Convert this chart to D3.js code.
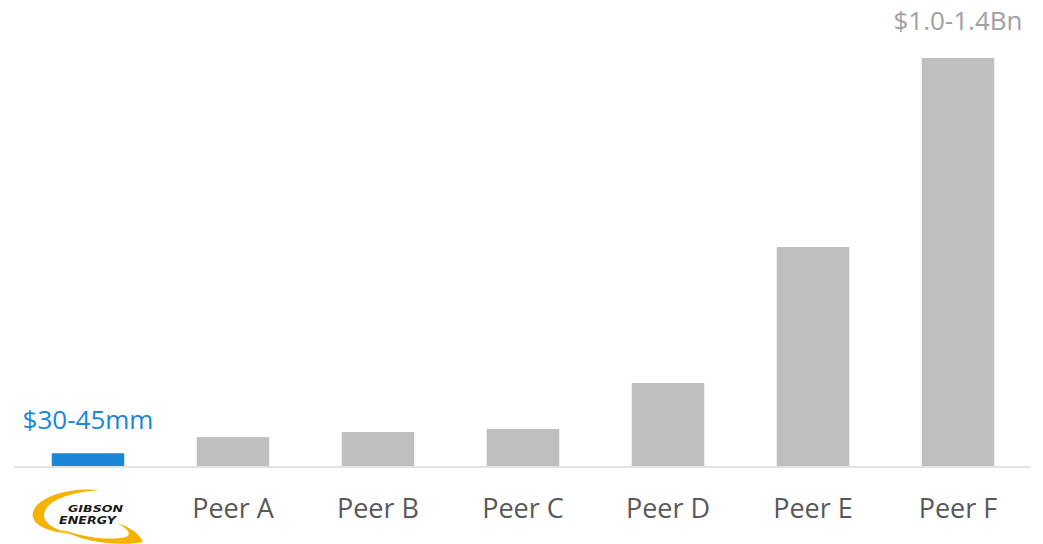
<!DOCTYPE html>
<html>
<head>
<meta charset="utf-8">
<script src="https://cdn.jsdelivr.net/npm/d3@7"></script>
<style>
  html, body { margin: 0; padding: 0; background: #ffffff; }
  svg { display: block; }
</style>
</head>
<body>
<svg id="chart" width="1043" height="544"></svg>
<script>
const categories = ["Gibson Energy", "Peer A", "Peer B", "Peer C", "Peer D", "Peer E", "Peer F"];
// Estimated annual figures in $mm (midpoints where a range is given)
const values = [37.5, 85, 100, 109, 244, 644, 1200];
const valueLabels = ["$30-45mm", "", "", "", "", "", "$1.0-1.4Bn"];
const highlight = "Gibson Energy";

const W = 1043, H = 544;
const svg = d3.select("#chart");

const x = d3.scaleBand().domain(categories).range([15.5, 1030.5]).paddingInner(0.5).paddingOuter(0.25);
const y = d3.scaleLinear().domain([0, 1200]).range([466, 58]);

// bars
svg.append("g").selectAll("rect").data(categories).join("rect")
  .attr("x", d => x(d))
  .attr("width", x.bandwidth())
  .attr("y", (d, i) => y(values[i]))
  .attr("height", (d, i) => y(0) - y(values[i]))
  .attr("fill", d => d === highlight ? "#1a86d6" : "#bfbfbf");

// axis
const axis = d3.axisBottom(x).tickSize(0).tickFormat(d => d === highlight ? "" : d);
const gx = svg.append("g").attr("transform", `translate(0,${y(0) + 1})`).call(axis);
gx.select(".domain").attr("stroke", "#d9d9d9").attr("stroke-width", 1.6).attr("d", "M14,0H1030");
gx.selectAll(".tick text")
  .attr("y", 51).attr("dy", 0)
  .attr("font-family", "'Open Sans', sans-serif")
  .attr("font-size", 27)
  .attr("fill", "#595959");

// value labels
svg.append("g").selectAll("text").data(categories).join("text")
  .attr("x", d => x(d) + x.bandwidth() / 2)
  .attr("y", (d, i) => y(values[i]) - 24 - (i === categories.length - 1 ? 4 : 0))
  .attr("text-anchor", "middle")
  .attr("font-family", "'Open Sans', sans-serif")
  .attr("font-size", 26)
  .attr("fill", d => d === highlight ? "#1a86d6" : "#a0a0a0")
  .text((d, i) => valueLabels[i]);

// Gibson Energy logo in place of its tick label
const cx = x(highlight) + x.bandwidth() / 2;
const logo = svg.append("g").attr("transform", `translate(${cx - 88},0)`);
const gold = "#f6b200";
logo.append("path")
  .attr("fill", gold)
  .attr("d", "M100,490 C70,487 38,496 33,512 C30,524 46,532 72,534 C56,530 43,524 44,514 C46,500 72,492 100,490 Z");
logo.append("path")
  .attr("fill", gold)
  .attr("d", "M60,529 C85,544 125,546 143,542 C140,534 130,527 117,523 C128,529 132,534 126,537 C108,541 82,537 60,529 Z");
logo.append("text")
  .attr("x", 68).attr("y", 512)
  .attr("font-family", "'DejaVu Sans', sans-serif").attr("font-weight", "bold").attr("font-style", "italic")
  .attr("font-size", 9.5).attr("textLength", 55).attr("lengthAdjust", "spacingAndGlyphs")
  .attr("fill", "#1a1a1a").text("GIBSON");
logo.append("text")
  .attr("x", 59).attr("y", 523.5)
  .attr("font-family", "'DejaVu Sans', sans-serif").attr("font-weight", "bold").attr("font-style", "italic")
  .attr("font-size", 10).attr("textLength", 57).attr("lengthAdjust", "spacingAndGlyphs")
  .attr("fill", "#1a1a1a").text("ENERGY");
</script>
</body>
</html>
